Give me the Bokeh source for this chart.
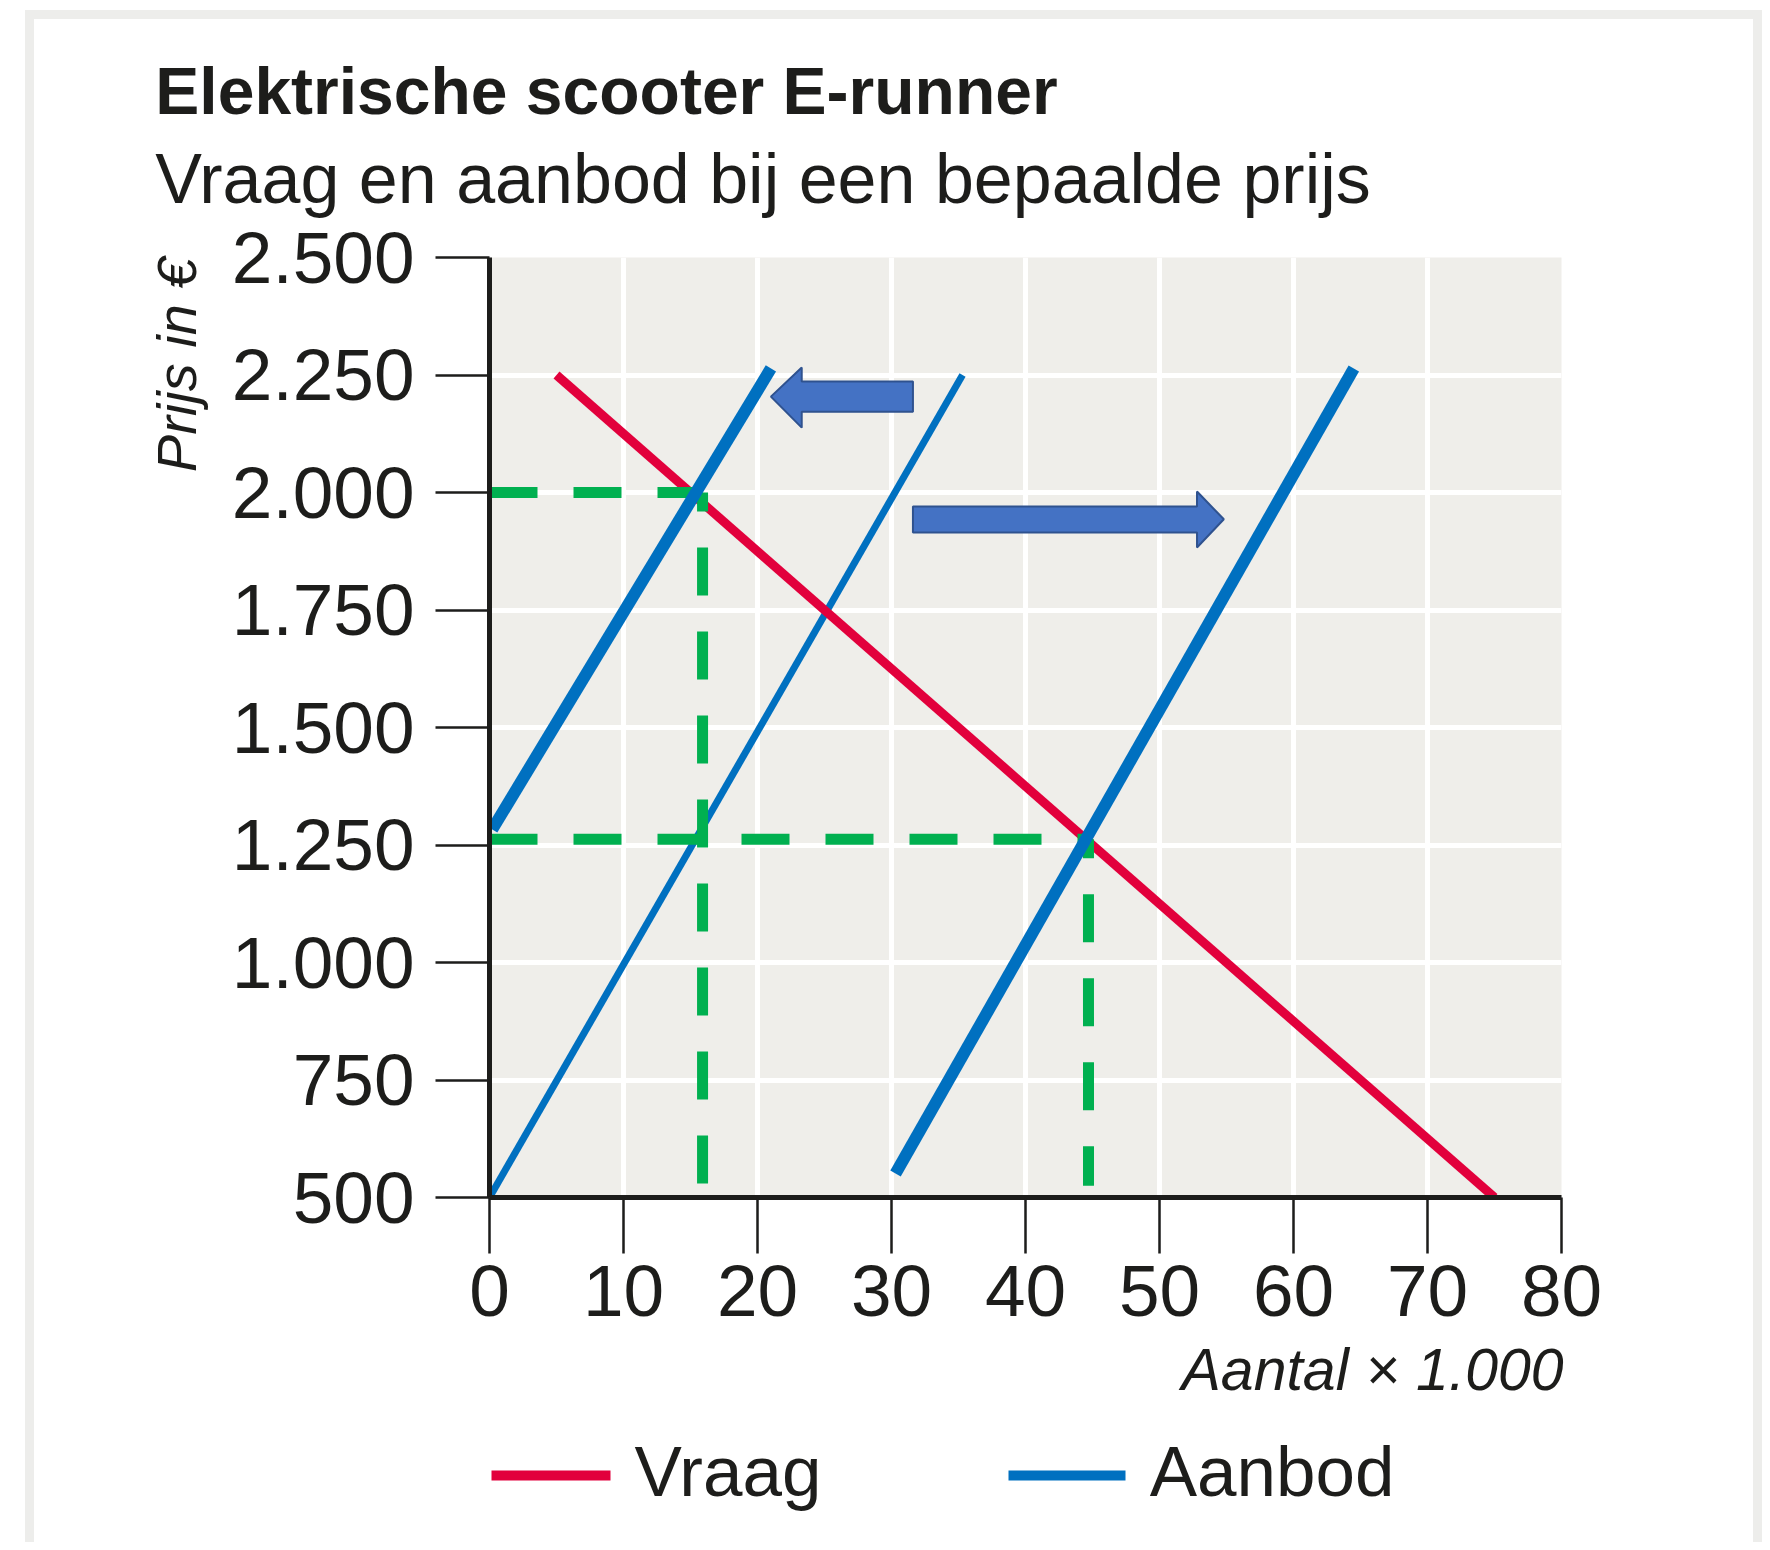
import math
from bokeh.plotting import figure
from bokeh.models import (Range1d, FixedTicker, LinearAxis, InlineStyleSheet)
from bokeh.embed import file_html
from bokeh.resources import INLINE

# ---------------- data ----------------
title_text = "Elektrische scooter E-runner"
subtitle_text = "Vraag en aanbod bij een bepaalde prijs"
x_title = "Aantal × 1.000"
y_title = "Prijs in €"

x_ticks = [0, 10, 20, 30, 40, 50, 60, 70, 80]
y_ticks = [500, 750, 1000, 1250, 1500, 1750, 2000, 2250, 2500]
y_tick_labels = ["500", "750", "1.000", "1.250", "1.500", "1.750", "2.000", "2.250", "2.500"]

# demand (Vraag)
vraag_q = [5.0, 75.0]
vraag_p = [2250, 500]
# original supply (Aanbod)
aanbod_q = [0.0, 35.3]
aanbod_p = [500, 2250]
# supply shifted left
aanbod_links_q = [0.2, 21.0]
aanbod_links_p = [1283, 2264]
# supply shifted right
aanbod_rechts_q = [30.3, 64.5]
aanbod_rechts_p = [551, 2264]

# equilibrium helper lines (green dashed)
eq1_q, eq1_p = 15.9, 2000
eq2_q, eq2_p = 44.7, 1262
helper_bottom_p = 525

# block arrows
pijl_links_q = [21.0, 23.3, 23.3, 31.6, 31.6, 23.3, 23.3]
pijl_links_p = [2204, 2266, 2236, 2236, 2172, 2172, 2138]
pijl_rechts_q = [31.6, 52.8, 52.8, 54.8, 52.8, 52.8, 31.6]
pijl_rechts_p = [1970, 1970, 2002, 1943, 1883, 1915, 1915]

# legend
legend_labels = ["Vraag", "Aanbod"]
legend_label_at = [17.8, 58.4]          # label centres (x data units)
legend_vraag_span = (0.15, 9.03)        # red swatch extent
legend_aanbod_span = (38.73, 47.46)     # blue swatch extent

# text anchor positions (data units)
y_title_at = 2500      # top end of the rotated y title
x_title_at = 65.9      # centre of the x title
title_at = 8.73        # centre of the title
subtitle_at = 20.41    # centre of the subtitle

# ---------------- style ----------------
RED = "#e2003c"
BLUE = "#0070c0"
GREEN = "#00b050"
ARROW_FILL = "#4472c4"
ARROW_LINE = "#2f528f"
INK = "#1d1d1b"
PLOT_BG = "#efeeea"
FONT = "Liberation Sans"

frame_css = InlineStyleSheet(css="""
:host { position: relative; }
:host::after {
  content: ''; position: absolute; left: 25px; top: 10px;
  width: 1737px; height: 1532px; box-sizing: border-box;
  border-style: solid; border-color: #ededeb; border-width: 9px 9px 0 9px;
  pointer-events: none;
}
""")

p = figure(width=1762, height=1542, title=None,
           x_range=Range1d(0, 80), y_range=Range1d(500, 2500),
           output_backend="svg", toolbar_location=None,
           min_border_left=489, min_border_right=201,
           min_border_top=257, min_border_bottom=345,
           background_fill_color=PLOT_BG, border_fill_color="white",
           outline_line_color=None)
p.stylesheets = [frame_css]

# main axes
p.xaxis.ticker = FixedTicker(ticks=x_ticks)
p.yaxis.ticker = FixedTicker(ticks=y_ticks)
p.yaxis.major_label_overrides = {v: s for v, s in zip(y_ticks, y_tick_labels)}
for ax in (p.xaxis, p.yaxis):
    ax.axis_line_color = INK
    ax.axis_line_width = 5
    ax.major_tick_line_color = INK
    ax.major_tick_line_width = 2.5
    ax.major_tick_in = 0
    ax.minor_tick_line_color = None
    ax.major_label_text_font = FONT
    ax.major_label_text_font_size = "73px"
    ax.major_label_text_color = INK
p.xaxis.major_tick_out = 56
p.xaxis.major_label_standoff = 12
p.yaxis.major_tick_out = 54
p.yaxis.major_label_standoff = 21


def bare_axis(**kw):
    ax = LinearAxis(axis_line_color=None, major_tick_line_color=None,
                    minor_tick_line_color=None, major_tick_out=0, major_tick_in=0,
                    major_label_text_font=FONT, major_label_text_color=INK)
    for k, v in kw.items():
        setattr(ax, k, v)
    return ax


# subtitle and title as single-label axes above the plot (subtitle closest)
p.add_layout(bare_axis(ticker=FixedTicker(ticks=[subtitle_at]),
                       major_label_overrides={subtitle_at: subtitle_text},
                       major_label_standoff=40,
                       major_label_text_font_size="70px"), "above")
p.add_layout(bare_axis(ticker=FixedTicker(ticks=[title_at]),
                       major_label_overrides={title_at: title_text},
                       major_label_standoff=9,
                       major_label_text_font_style="bold",
                       major_label_text_font_size="66px"), "above")

# y-axis title (rotated, ending at the top of the axis)
p.add_layout(bare_axis(ticker=FixedTicker(ticks=[y_title_at]),
                       major_label_overrides={y_title_at: y_title},
                       major_label_standoff=52, major_label_orientation=math.pi / 2,
                       major_label_text_font_style="italic",
                       major_label_text_font_size="56px"), "left")

# x-axis title (right part under the axis); its axis_label only adds spacing
p.add_layout(bare_axis(ticker=FixedTicker(ticks=[x_title_at]),
                       major_label_overrides={x_title_at: x_title},
                       major_label_standoff=18,
                       major_label_text_font_style="italic",
                       major_label_text_font_size="59px",
                       axis_label=" ", axis_label_standoff=65,
                       axis_label_text_font_size="2px"), "below")

# legend: coloured swatches as bounded axis lines, labels as tick labels
p.add_layout(bare_axis(ticker=FixedTicker(ticks=[]), bounds=legend_vraag_span,
                       axis_line_color=RED, axis_line_width=10), "below")
p.add_layout(bare_axis(ticker=FixedTicker(ticks=[]), bounds=legend_aanbod_span,
                       axis_line_color=BLUE, axis_line_width=10), "below")
p.add_layout(bare_axis(ticker=FixedTicker(ticks=legend_label_at),
                       major_label_overrides={v: s for v, s in zip(legend_label_at, legend_labels)},
                       major_label_standoff=-44,
                       major_label_text_font_size="71px"), "below")

# grid
p.xgrid.ticker = FixedTicker(ticks=x_ticks)
p.ygrid.ticker = FixedTicker(ticks=y_ticks)
for g in (p.xgrid, p.ygrid):
    g.grid_line_color = "white"
    g.grid_line_width = 5

# lines
p.line(aanbod_q, aanbod_p, line_color=BLUE, line_width=7)
p.line(vraag_q, vraag_p, line_color=RED, line_width=9)
p.line([0, eq1_q], [eq1_p, eq1_p], line_color=GREEN, line_width=11, line_dash="48 36")
p.line([eq1_q, eq1_q], [eq1_p, helper_bottom_p], line_color=GREEN, line_width=11,
       line_dash="48 36", line_dash_offset=29)
p.line([0, eq2_q], [eq2_p, eq2_p], line_color=GREEN, line_width=11, line_dash="48 36")
p.line([eq2_q, eq2_q], [eq2_p, helper_bottom_p], line_color=GREEN, line_width=11,
       line_dash="48 36", line_dash_offset=29)
p.line(aanbod_links_q, aanbod_links_p, line_color=BLUE, line_width=12)
p.line(aanbod_rechts_q, aanbod_rechts_p, line_color=BLUE, line_width=12)

# arrows
p.patch(pijl_links_q, pijl_links_p, fill_color=ARROW_FILL, line_color=ARROW_LINE, line_width=2)
p.patch(pijl_rechts_q, pijl_rechts_p, fill_color=ARROW_FILL, line_color=ARROW_LINE, line_width=2)

open("out.html", "w").write(file_html(p, INLINE))
